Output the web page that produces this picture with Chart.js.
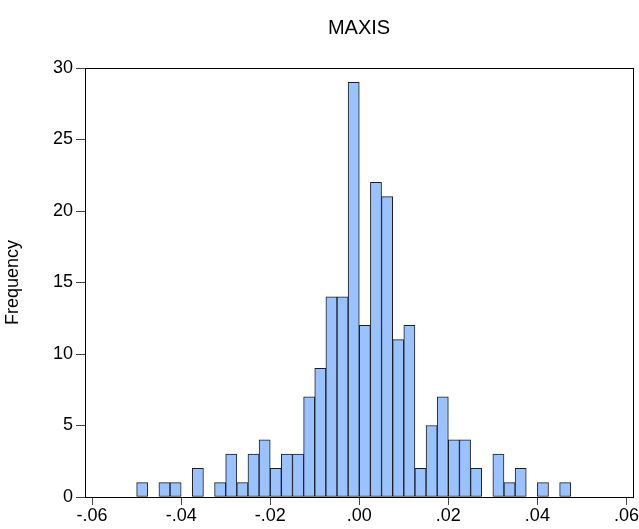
<!DOCTYPE html>
<html>
<head>
<meta charset="utf-8">
<script src="https://cdn.jsdelivr.net/npm/chart.js@4"></script>
<style>
  body { margin: 0; background: #fff; }
  #wrap { width: 639px; height: 529px; }
</style>
</head>
<body>
<div id="wrap"><canvas id="histChart" width="639" height="529"></canvas></div>
<script>
// left edges of the histogram bins
const binEdges = [
  -0.05, -0.0475, -0.045, -0.0425, -0.04, -0.0375, -0.035, -0.0325, -0.03, -0.0275,
  -0.025, -0.0225, -0.02, -0.0175, -0.015, -0.0125, -0.01, -0.0075, -0.005, -0.0025,
  0, 0.0025, 0.005, 0.0075, 0.01, 0.0125, 0.015, 0.0175, 0.02, 0.0225,
  0.025, 0.0275, 0.03, 0.0325, 0.035, 0.0375, 0.04, 0.0425, 0.045
];
const binWidth = 0.0025;
const counts = [
  1, 0, 1, 1, 0, 2, 0, 1, 3, 1,
  3, 4, 2, 3, 3, 7, 9, 14, 14, 29,
  12, 22, 21, 11, 12, 2, 5, 7, 4, 4,
  2, 0, 3, 1, 2, 0, 1, 0, 1
];
const xTicks = [-0.06, -0.04, -0.02, 0, 0.02, 0.04, 0.06];
const yTicks = [0, 5, 10, 15, 20, 25, 30];
const titleText = "MAXIS";

const points = binEdges
  .map((e, i) => ({ x: e + binWidth / 2, y: counts[i] }))
  .filter(p => p.y > 0);

const fmtX = v => {
  const s = Math.abs(v).toFixed(2).replace(/^0/, "");
  return (v < -1e-9 ? "-" : "") + s;
};

const fontFamily = "Arial, 'Liberation Sans', sans-serif";
const font = { family: fontFamily, size: 18 };

// box round the plot area, and the title centred over it
const frame = {
  id: "frame",
  afterDraw(chart) {
    const { ctx, chartArea: a } = chart;
    ctx.save();
    ctx.strokeStyle = "#000";
    ctx.lineWidth = 1;
    ctx.strokeRect(Math.round(a.left) + 0.5, Math.round(a.top) + 0.5,
      Math.round(a.right - a.left), Math.round(a.bottom - a.top));
    ctx.fillStyle = "#000";
    ctx.font = "20px " + fontFamily;
    ctx.textAlign = "center";
    ctx.textBaseline = "middle";
    ctx.fillText(titleText, (a.left + a.right) / 2, 28);
    ctx.restore();
  }
};

new Chart(document.getElementById("histChart"), {
  type: "bar",
  data: {
    datasets: [{
      label: titleText,
      data: points,
      backgroundColor: "#99c2ff",
      borderColor: "#1e1e1e",
      borderWidth: 1,
      borderSkipped: false,
      barPercentage: 1,
      categoryPercentage: 1
    }]
  },
  options: {
    responsive: false,
    animation: false,
    layout: { padding: { left: 0, right: 5, top: 68, bottom: 0 } },
    plugins: {
      legend: { display: false },
      tooltip: { enabled: false },
      title: { display: false }
    },
    scales: {
      x: {
        type: "linear",
        offset: false,
        min: -0.0616,
        max: 0.0615,
        afterBuildTicks: s => { s.ticks = xTicks.map(v => ({ value: v })); },
        afterFit: s => { s.height = 32; },
        ticks: { color: "#000", font, padding: 0, maxRotation: 0, callback: v => fmtX(v) },
        grid: { offset: false, drawOnChartArea: false, tickLength: 8, color: "#000", tickColor: "#444" },
        border: { display: true, color: "#000" }
      },
      y: {
        min: 0,
        max: 30,
        afterBuildTicks: s => { s.ticks = yTicks.map(v => ({ value: v })); },
        afterFit: s => { s.width = 85; },
        ticks: { color: "#000", font, padding: 3 },
        grid: { drawOnChartArea: false, tickLength: 9, color: "#000", tickColor: "#444" },
        border: { display: true, color: "#000" },
        title: {
          display: true,
          text: "Frequency",
          color: "#000",
          font,
          padding: { top: 2, bottom: 0 }
        }
      }
    }
  },
  plugins: [frame]
});
</script>
</body>
</html>
